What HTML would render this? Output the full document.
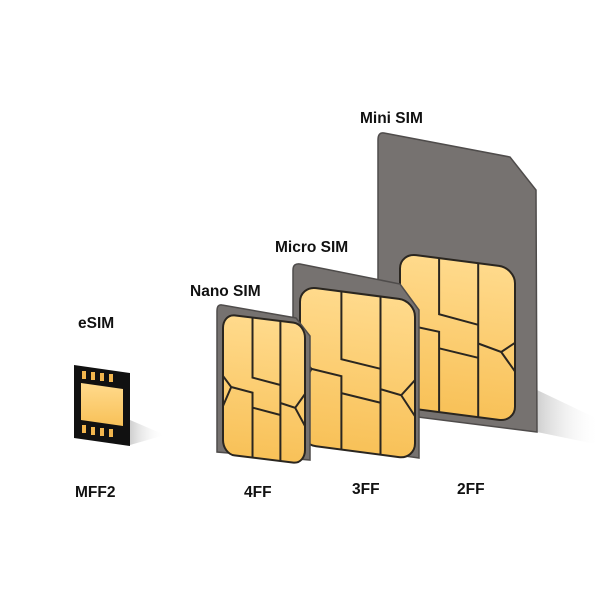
<!DOCTYPE html>
<html><head><style>
html,body{margin:0;padding:0;background:#fff;}
svg text{font-family:"Liberation Sans",sans-serif;font-weight:bold;font-size:15.5px;fill:#111;}
</style></head><body>
<svg width="600" height="600" viewBox="0 0 600 600" xmlns="http://www.w3.org/2000/svg">
<defs>
<linearGradient id="g" x1="0" y1="0" x2="0" y2="1">
<stop offset="0" stop-color="#ffda8c"/><stop offset="1" stop-color="#f8c158"/>
</linearGradient>
<linearGradient id="sh" x1="0" y1="0" x2="1" y2="0">
<stop offset="0" stop-color="#bbb" stop-opacity="0.7"/><stop offset="1" stop-color="#fff" stop-opacity="0"/>
</linearGradient>
<g id="chipA">
<rect x="0" y="0" width="100" height="140" rx="14" fill="url(#g)" stroke="#2a2620" stroke-width="2" vector-effect="non-scaling-stroke"/>
<path d="M36 0V60L70 64M70 0V140M0 62L10 72L0 92M10 72L36 75V140M36 90L70 94M70 82L88 85L100 70M88 85L100 102" fill="none" stroke="#2a2620" stroke-width="2" vector-effect="non-scaling-stroke"/>
</g>
<g id="chipB">
<rect x="0" y="0" width="100" height="140" rx="14" fill="url(#g)" stroke="#2a2620" stroke-width="2" vector-effect="non-scaling-stroke"/>
<path d="M34 0V51L68 56M68 0V140M0 64L34 67V140M34 82L68 86M68 73L88 78L100 68M88 78L100 94" fill="none" stroke="#2a2620" stroke-width="2" vector-effect="non-scaling-stroke"/>
</g>
</defs>
<polygon points="537,390 600,420 600,445 537,432" fill="url(#sh)"/>
<polygon points="130,420 165,435 130,445" fill="url(#sh)"/>
<path d="M384 133 L510 157 L536 190 L537 432 L378 412 L378 140 Q378 132 384 133Z" fill="#767270" stroke="#4f4c4b" stroke-width="1.5"/>
<use href="#chipB" transform="matrix(1.15,0.15,0,1.1,400,253)"/>
<path d="M300 264 L400 284 L419 310 L419 458 L293 440 L293 270 Q293 263 300 264Z" fill="#767270" stroke="#4f4c4b" stroke-width="1.5"/>
<use href="#chipA" transform="matrix(1.15,0.15,0,1.13,300,286)"/>
<path d="M222 305 L296 318 L310 336 L310 460 L217 452 L217 311 Q217 304 222 305Z" fill="#767270" stroke="#4f4c4b" stroke-width="1.5"/>
<use href="#chipA" transform="matrix(0.82,0.1,0,1.0,223,314)"/>
<polygon points="74,365 130,373 130,446 74,438" fill="#111"/>
<polygon points="81,383 123,389 123,426 81,420" fill="url(#g)"/>
<g fill="#f2b64e">
<rect x="82" y="371" width="4" height="8"/><rect x="91" y="372" width="4" height="8"/><rect x="100" y="373" width="4" height="8"/><rect x="109" y="374" width="4" height="8"/>
<rect x="82" y="425" width="4" height="8"/><rect x="91" y="427" width="4" height="8"/><rect x="100" y="428" width="4" height="8"/><rect x="109" y="429" width="4" height="8"/>
</g>
<text x="360" y="123">Mini SIM</text>
<text x="275" y="252">Micro SIM</text>
<text x="190" y="296">Nano SIM</text>
<text x="78" y="328">eSIM</text>
<text x="75" y="497">MFF2</text>
<text x="244" y="497">4FF</text>
<text x="352" y="494">3FF</text>
<text x="457" y="494">2FF</text>
</svg>
</body></html>
